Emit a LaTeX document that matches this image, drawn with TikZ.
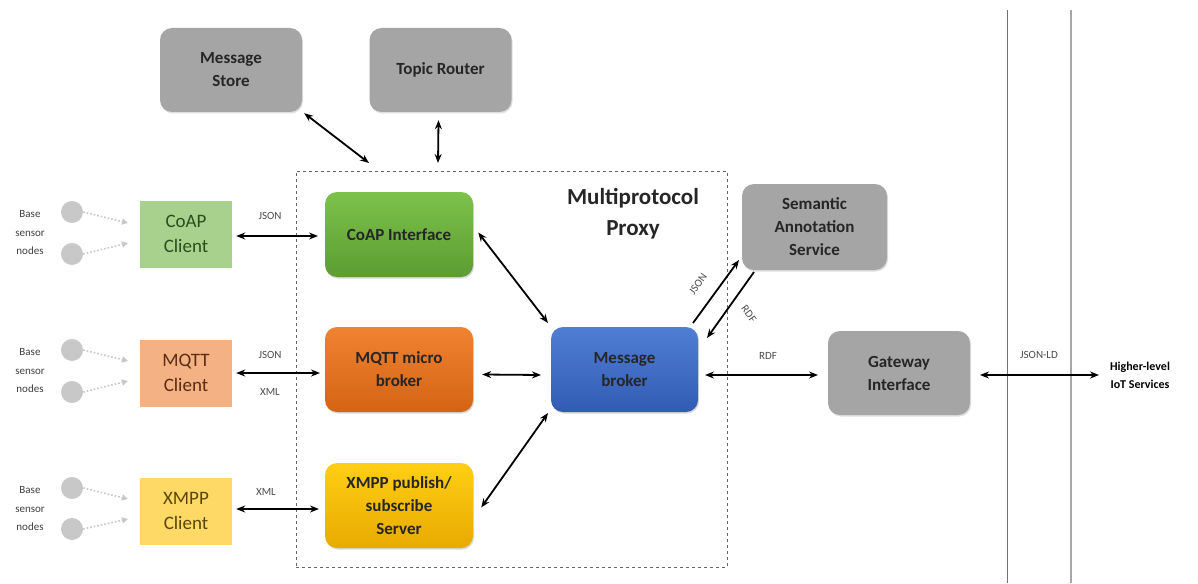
\documentclass[tikz,border=0pt]{standalone}
\usepackage{fontspec}
\setmainfont{Carlito}
\usetikzlibrary{arrows.meta,shadows}
\definecolor{boxgray}{HTML}{A5A5A5}
\definecolor{txt}{HTML}{262626}
\definecolor{coapc}{HTML}{A9D18E}
\definecolor{mqttc}{HTML}{F4B183}
\definecolor{xmppc}{HTML}{FFD966}
\definecolor{sensor}{HTML}{C8C8C8}
\begin{document}
\begin{tikzpicture}[x=1pt,y=-1pt,
  every node/.style={font=\fontsize{12}{14}\selectfont, text=txt, align=center},
  graybox/.style={draw=none, rounded corners=12pt, fill=boxgray, minimum width=142pt, minimum height=84pt, font=\fontsize{17}{23}\selectfont\bfseries, drop shadow={opacity=0.25, shadow xshift=1pt, shadow yshift=-1.5pt}},
  protobox/.style={draw=none, rounded corners=12pt, minimum width=148pt, minimum height=85pt, font=\fontsize{17}{23}\selectfont\bfseries, drop shadow={opacity=0.3, shadow xshift=1pt, shadow yshift=-1.5pt}},
  clientbox/.style={draw=none, minimum width=92pt, minimum height=67pt, font=\fontsize{19}{25}\selectfont},
  sensornode/.style={circle, fill=sensor, minimum size=22pt, inner sep=0pt},
  sensorlabel/.style={font=\fontsize{11}{18.5}\selectfont, text=black!75},
  lbl/.style={font=\fontsize{11}{13}\selectfont, text=black!70},
  link/.style={line width=1.8pt, black, {Stealth[length=9pt,width=7pt]}-{Stealth[length=9pt,width=7pt]}},
  oneway/.style={line width=1.8pt, black, -{Stealth[length=9pt,width=7pt]}},
  feed/.style={line width=1.6pt, sensor, dotted, -{Triangle[length=6pt,width=6pt]}}]

\useasboundingbox (0,0) rectangle (1198,583);
\fill[white] (0,0) rectangle (1198,583);

% separators between the gateway and the higher-level services
\draw[line width=1pt, black!55] (1007,10) -- (1007,583);
\draw[line width=2pt, black!35] (1071,10) -- (1071,583);

% the proxy boundary
\node[draw=black!60, dashed, line width=1pt, minimum width=431pt, minimum height=396pt, inner sep=0pt] (proxy) at (511.5,369) {};
\node[font=\fontsize{23}{31}\selectfont\bfseries] (ptitle) at (633,214) {Multiprotocol\\Proxy};

% services around the proxy
\node[graybox] (store) at (231,70) {Message\\Store};
\node[graybox] (router) at (440.5,70) {Topic Router};
\node[graybox, minimum width=145pt, minimum height=86pt] (sem) at (814.5,227) {Semantic\\Annotation\\Service};
\node[graybox] (gw) at (899,373) {Gateway\\Interface};

% protocol interfaces
\node[protobox, top color={rgb,255:red,124;green,194;blue,74}, bottom color={rgb,255:red,92;green,156;blue,50}] (coapi) at (399,234.5) {CoAP Interface};
\node[protobox, top color={rgb,255:red,240;green,130;blue,50}, bottom color={rgb,255:red,212;green,100;blue,20}] (mqtti) at (399,369.5) {MQTT micro\\broker};
\node[protobox, top color={rgb,255:red,255;green,206;blue,20}, bottom color={rgb,255:red,232;green,170;blue,0}] (xmppi) at (399,505.5) {XMPP publish/\\subscribe\\Server};
\node[protobox, minimum width=147pt, top color={rgb,255:red,80;green,126;blue,212}, bottom color={rgb,255:red,50;green,92;blue,180}] (broker) at (624.5,369.5) {Message\\broker};

% clients
\node[clientbox, fill=coapc, text={rgb,255:red,40;green,80;blue,30}] (coapc) at (186,234) {CoAP\\Client};
\node[clientbox, fill=mqttc, text={rgb,255:red,90;green,45;blue,20}] (mqttc) at (186,373) {MQTT\\Client};
\node[clientbox, fill=xmppc, text={rgb,255:red,90;green,70;blue,10}] (xmppc) at (186,511) {XMPP\\Client};

% base sensor nodes
\foreach \nm/\yy in {a/212, b/254, c/350, d/392, e/488, f/529} {
  \node[sensornode] (s\nm) at (72,\yy) {};
}
\node[sensorlabel] (la) at (30,233) {Base\\sensor\\nodes};
\node[sensorlabel] (lb) at (30,371) {Base\\sensor\\nodes};
\node[sensorlabel] (lc) at (30,509) {Base\\sensor\\nodes};

\coordinate (ta) at (128,223);
\coordinate (tb) at (128,243);
\coordinate (tc) at (128,361);
\coordinate (td) at (128,381);
\coordinate (te) at (128,499);
\coordinate (tf) at (128,519);
\foreach \nm in {a,b,c,d,e,f} {
  \draw[feed] (s\nm.east) -- (t\nm);
}

% client to interface links
\draw[link] (coapc.east) ++(4,2) coordinate (c1) -- (318,236);
\node[lbl] (j1) at (270,216) {JSON};
\draw[link] (mqttc.east) ++(4,0) coordinate (c2) -- (320,373);
\node[lbl] (j2) at (270,355) {JSON};
\node[lbl] (x2) at (270,392) {XML};
\draw[link] (xmppc.east) ++(4,-2) coordinate (c3) -- (319,509);
\node[lbl] (x3) at (266,492) {XML};

% links inside the proxy
\draw[link] (coapi.east) ++(5,-2) -- (548,323);
\draw[link] (mqtti.east) ++(9,5) -- (541,375);
\draw[link] (xmppi.east) ++(8,2) -- (548,413);

% links to storage and routing
\draw[link] (store.south east) ++(2,1) -- (369,163);
\draw[link] (router.south) ++(-2,8) -- (438,163);

% semantic annotation exchange
\draw[oneway] (693,323) -- (739,260);
\node[lbl, rotate=54, inner sep=1pt] (jsem) at (698,284) {JSON};
\draw[oneway] (754,272) -- (707,338);
\node[lbl, rotate=-54, inner sep=1pt] (rsem) at (749,314) {RDF};

% broker to gateway and beyond
\draw[link] (705,375) -- (818,375);
\node[lbl] (rdf) at (768,356) {RDF};
\draw[link] (980,375) -- (1099,375);
\node[lbl] (jld) at (1039,355) {JSON-LD};
\node[font=\fontsize{12}{18}\selectfont\bfseries, text=black] (higher) at (1140,375) {Higher-level\\IoT Services};
\end{tikzpicture}
\end{document}
